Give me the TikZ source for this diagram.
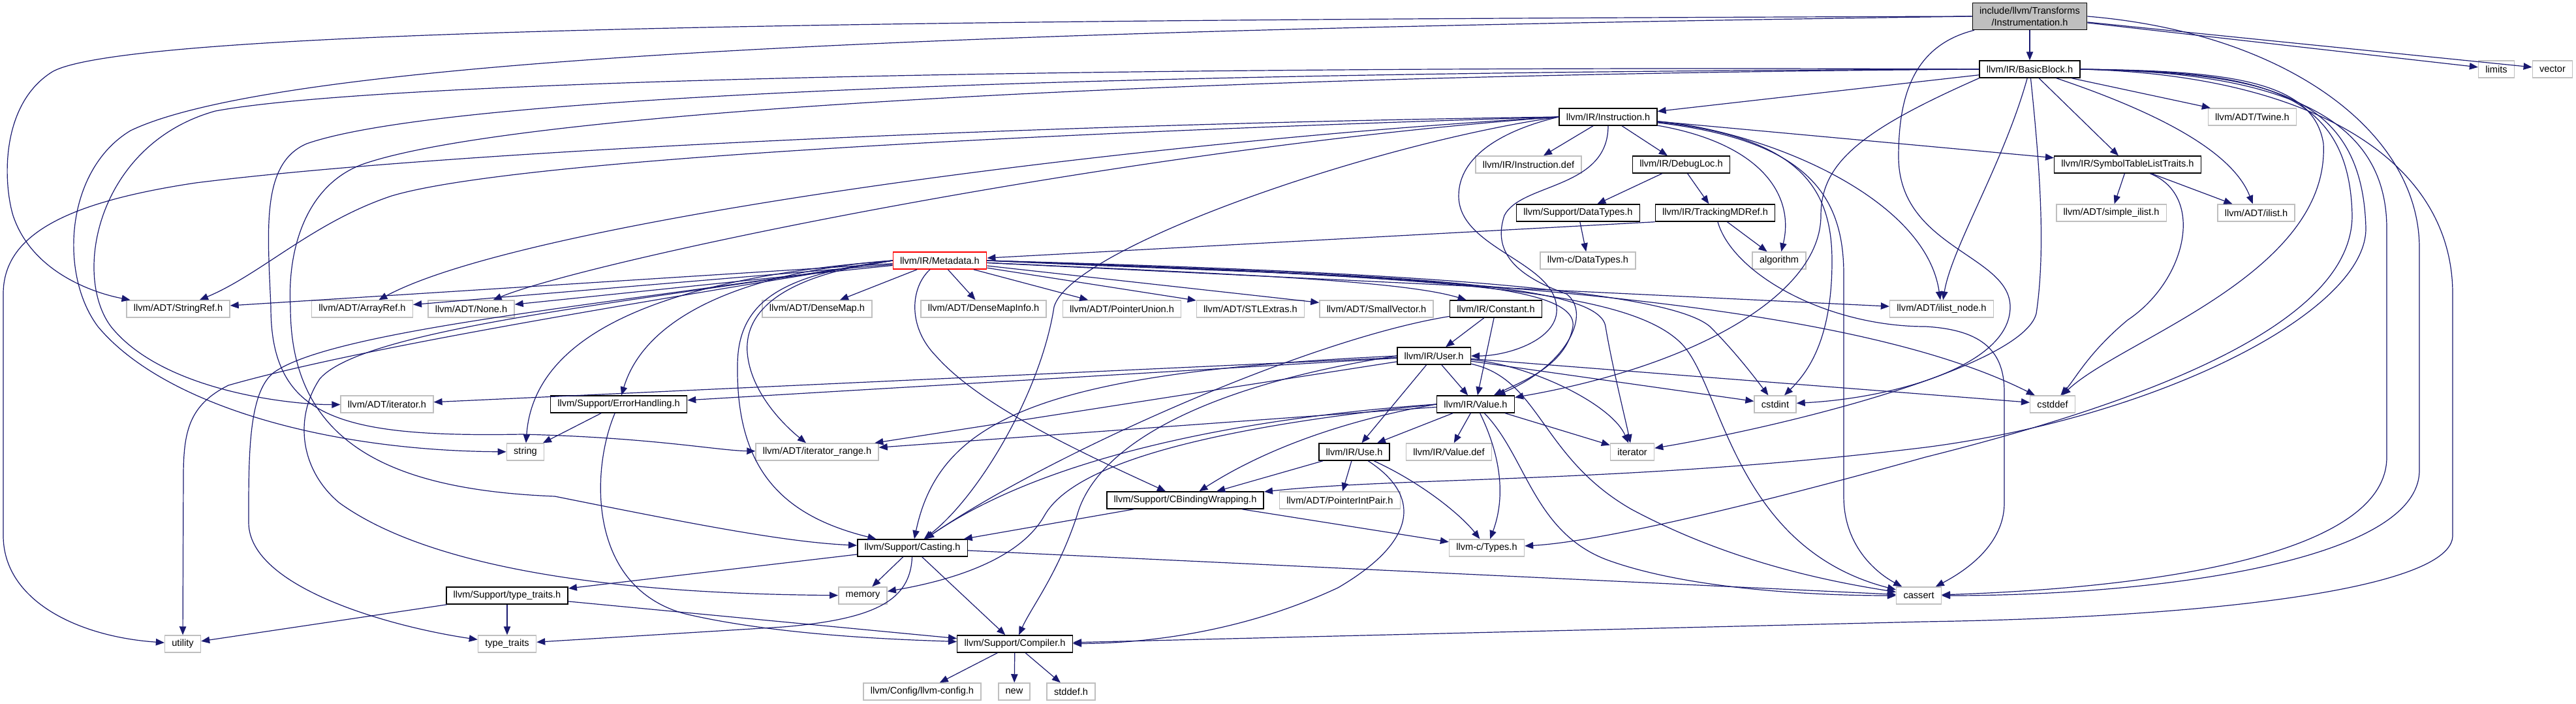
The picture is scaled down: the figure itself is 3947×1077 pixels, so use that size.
\documentclass[tikz,border=0pt]{standalone}
\usepackage{fontspec}
\setmainfont{Liberation Sans}
\usetikzlibrary{arrows.meta}
\definecolor{edgeblue}{HTML}{191970}
\definecolor{boxgray}{HTML}{BFBFBF}
\tikzset{dep/.style={draw=edgeblue, line width=0.6pt, -{Triangle[length=6.5pt,width=5.2pt]}},
  hdr/.style={draw=black, line width=0.75pt, fill=white, inner xsep=5.4pt, inner ysep=0pt, minimum height=13pt, font=\fontsize{7.3}{8.8}\selectfont},
  sys/.style={hdr, draw=boxgray},
  trunc/.style={hdr, draw=red},
  topfile/.style={hdr, fill=boxgray, align=center, minimum height=20.5pt}}

\begin{document}
\begin{tikzpicture}[x=0.5pt,y=-0.5pt]
  \fill[white] (0,0) rectangle (3947,1077);
  \useasboundingbox (0,0) rectangle (3947,1077);
  % headers
  \node[topfile] (root) at (3110,25) {include/llvm/Transforms\\/Instrumentation.h};
  \node[hdr] (bb)     at (3110,106) {llvm/IR/BasicBlock.h};
  \node[sys] (limits) at (3825,106) {limits};
  \node[sys] (vec)    at (3911,106) {vector};
  \node[hdr] (instr)  at (2464,179) {llvm/IR/Instruction.h};
  \node[sys] (twine)  at (3451,179) {llvm/ADT/Twine.h};
  \node[sys] (idef)   at (2342,252) {llvm/IR/Instruction.def};
  \node[hdr] (dloc)   at (2576,252) {llvm/IR/DebugLoc.h};
  \node[hdr] (stlt)   at (3260,252) {llvm/IR/SymbolTableListTraits.h};
  \node[hdr] (sdt)    at (2418,326) {llvm/Support/DataTypes.h};
  \node[hdr] (tmd)    at (2628,326) {llvm/IR/TrackingMDRef.h};
  \node[sys] (silist) at (3235,326) {llvm/ADT/simple\_ilist.h};
  \node[sys] (ilist)  at (3457,326) {llvm/ADT/ilist.h};
  \node[sys] (cdt)    at (2433,399) {llvm-c/DataTypes.h};
  \node[sys] (algo)   at (2726,399) {algorithm};
  \node[trunc] (md)   at (1440,399) {llvm/IR/Metadata.h};
  \node[sys] (sref)   at (273,473)  {llvm/ADT/StringRef.h};
  \node[sys] (aref)   at (555,473)  {llvm/ADT/ArrayRef.h};
  \node[sys] (none)   at (722,473)  {llvm/ADT/None.h};
  \node[sys] (dmap)   at (1252,473) {llvm/ADT/DenseMap.h};
  \node[sys] (dmi)    at (1507,473) {llvm/ADT/DenseMapInfo.h};
  \node[sys] (punion) at (1719,473) {llvm/ADT/PointerUnion.h};
  \node[sys] (stlx)   at (1916,473) {llvm/ADT/STLExtras.h};
  \node[sys] (svec)   at (2109,473) {llvm/ADT/SmallVector.h};
  \node[hdr] (const)  at (2292,473) {llvm/IR/Constant.h};
  \node[sys] (ilnode) at (2975,473) {llvm/ADT/ilist\_node.h};
  \node[hdr] (user)   at (2197,545) {llvm/IR/User.h};
  \node[sys] (ith)    at (593,619)  {llvm/ADT/iterator.h};
  \node[hdr] (errh)   at (948,619)  {llvm/Support/ErrorHandling.h};
  \node[hdr] (value)  at (2261,619) {llvm/IR/Value.h};
  \node[sys] (cstdint) at (2720,619) {cstdint};
  \node[sys] (cstddef) at (3145,619) {cstddef};
  \node[sys] (str)    at (805,692)  {string};
  \node[sys] (itr)    at (1252,692) {llvm/ADT/iterator\_range.h};
  \node[hdr] (use)    at (2075,692) {llvm/IR/Use.h};
  \node[sys] (vdef)   at (2220,692) {llvm/IR/Value.def};
  \node[sys] (iter)   at (2501,692) {iterator};
  \node[sys] (pip)    at (2053,766) {llvm/ADT/PointerIntPair.h};
  \node[hdr] (cbw)    at (1816,766) {llvm/Support/CBindingWrapping.h};
  \node[hdr] (cast)   at (1398,839) {llvm/Support/Casting.h};
  \node[sys] (ctypes) at (2278,839) {llvm-c/Types.h};
  \node[sys] (mem)    at (1322,912) {memory};
  \node[sys] (cassert) at (2940,912) {cassert};
  \node[hdr] (stt)    at (777,912)  {llvm/Support/type\_traits.h};
  \node[sys] (util)   at (280,986)  {utility};
  \node[sys] (tt)     at (777,986)  {type\_traits};
  \node[hdr] (comp)   at (1555,986) {llvm/Support/Compiler.h};
  \node[sys] (cfg)    at (1413,1059) {llvm/Config/llvm-config.h};
  \node[sys] (new)    at (1554,1059) {new};
  \node[sys] (stddef) at (1641,1059) {stddef.h};
  % Instrumentation.h
  \foreach \dst in {bb,limits,vec} \draw[dep] (root) -- (\dst);
  \draw[dep] (root.west) .. controls (1500,30) and (200,40) .. (80,110) .. controls (0,160) and (5,280) .. (20,330) .. controls (50,420) and (150,450) .. (sref);
  \draw[dep] (root.west) .. controls (1600,45) and (450,80) .. (200,200) .. controls (100,260) and (90,420) .. (150,500) .. controls (250,620) and (500,690) .. (str);
  \draw[dep] (root) .. controls (2930,70) and (2909,150) .. (2909,240) .. controls (2909,380) and (3080,390) .. (3080,470) .. controls (3080,560) and (2900,610) .. (cstdint);
  \draw[dep] (root.east) .. controls (3500,50) and (3707,200) .. (3707,380) -- (3707,720) .. controls (3707,860) and (3300,912) .. (cassert);
  % BasicBlock.h
  \foreach \dst in {instr,twine,stlt} \draw[dep] (bb) -- (\dst);
  \draw[dep] (bb) .. controls (3300,170) and (3420,230) .. (ilist);
  \draw[dep] (bb) .. controls (3070,250) and (2990,380) .. (ilnode);
  \draw[dep] (bb.east) .. controls (3420,108) and (3545,125) .. (3560,220) .. controls (3570,420) and (3250,520) .. (cstddef);
  \draw[dep] (bb) .. controls (3125,250) and (3135,380) .. (3120,480) .. controls (3100,560) and (2750,650) .. (iter);
  \draw[dep] (bb.east) .. controls (3450,110) and (3600,130) .. (3604,330) .. controls (3604,480) and (3350,600) .. (2950,700) .. controls (2700,770) and (2450,830) .. (ctypes);
  \draw[dep] (bb.east) .. controls (3460,112) and (3620,135) .. (3625,350) .. controls (3625,480) and (3300,640) .. (2950,685) .. controls (2500,740) and (2150,730) .. (cbw);
  \draw[dep] (bb.east) .. controls (3500,110) and (3657,180) .. (3657,350) -- (3657,700) .. controls (3657,850) and (3300,900) .. (cassert);
  \draw[dep] (bb.east) .. controls (3550,115) and (3758,250) .. (3758,450) -- (3758,820) .. controls (3758,900) and (3400,945) .. (2947,952) -- (comp);
  \draw[dep] (bb.south west) .. controls (2850,200) and (2790,250) .. (2790,330) .. controls (2790,450) and (2600,560) .. (value);
  \draw[dep] (bb.west) .. controls (1800,100) and (600,120) .. (330,170) .. controls (150,220) and (110,420) .. (170,500) .. controls (250,600) and (450,620) .. (ith);
  \draw[dep] (bb.west) .. controls (1800,110) and (700,140) .. (470,220) .. controls (400,250) and (410,350) .. (415,470) .. controls (415,640) and (520,670) .. (800,665) .. controls (1000,670) and (1100,690) .. (itr);
  \draw[dep] (bb.west) .. controls (1800,115) and (800,170) .. (560,250) .. controls (470,280) and (440,380) .. (445,470) .. controls (445,680) and (600,750) .. (850,760) .. controls (1050,800) and (1200,830) .. (cast);
  % Instruction.h
  \foreach \dst in {idef,dloc,stlt} \draw[dep] (instr) -- (\dst);
  \draw[dep] (instr) .. controls (2700,220) and (2750,300) .. (algo);
  \draw[dep] (instr) .. controls (2700,200) and (2950,300) .. (ilnode);
  \draw[dep] (instr) .. controls (2760,210) and (2807,290) .. (2807,400) .. controls (2807,520) and (2770,570) .. (cstdint);
  \draw[dep] (instr) .. controls (2770,215) and (2825,300) .. (2825,420) -- (2825,760) .. controls (2825,840) and (2880,880) .. (cassert);
  \draw[dep] (instr.west) .. controls (1700,200) and (800,240) .. (600,300) .. controls (480,340) and (400,420) .. (sref);
  \draw[dep] (instr.west) .. controls (1700,220) and (800,340) .. (aref);
  \draw[dep] (instr.west) .. controls (1700,230) and (900,400) .. (none);
  \draw[dep] (instr.west) .. controls (1600,190) and (700,230) .. (300,280) .. controls (100,310) and (5,360) .. (5,450) -- (5,820) .. controls (5,920) and (120,975) .. (util);
  \draw[dep] (instr.west) .. controls (2300,200) and (2235,240) .. (2235,300) .. controls (2235,380) and (2380,400) .. (2385,470) .. controls (2390,520) and (2310,545) .. (user);
  \draw[dep] (instr) .. controls (2464,290) and (2330,280) .. (2305,330) .. controls (2285,390) and (2330,425) .. (2400,450) .. controls (2440,480) and (2400,560) .. (value);
  \draw[dep] (instr.west) .. controls (2100,220) and (1640,380) .. (1615,470) .. controls (1595,600) and (1500,760) .. (cast);
  % DebugLoc.h, DataTypes.h, TrackingMDRef.h
  \foreach \dst in {sdt,tmd} \draw[dep] (dloc) -- (\dst);
  \draw[dep] (sdt) -- (cdt);
  \draw[dep] (tmd) -- (algo);
  \draw[dep] (tmd.south west) -- (md);
  \draw[dep] (tmd) .. controls (2655,420) and (2800,500) .. (2950,500) .. controls (3040,505) and (3071,540) .. (3071,600) -- (3071,770) .. controls (3071,840) and (3000,880) .. (cassert);
  % SymbolTableListTraits.h
  \foreach \dst in {silist,ilist} \draw[dep] (stlt) -- (\dst);
  \draw[dep] (stlt) .. controls (3380,300) and (3350,430) .. (3260,490) .. controls (3200,540) and (3180,580) .. (cstddef);
  % Metadata.h
  \foreach \dst in {dmap,dmi,punion,stlx,svec,sref,aref,none,ilnode} \draw[dep] (md) -- (\dst);
  \draw[dep] (md) .. controls (1900,420) and (2150,430) .. (const);
  \draw[dep] (md.east) .. controls (2300,425) and (2850,470) .. (cstddef);
  \draw[dep] (md.east) .. controls (2100,415) and (2550,440) .. (2620,500) .. controls (2660,540) and (2690,580) .. (cstdint);
  \draw[dep] (md.east) .. controls (2100,420) and (2450,430) .. (2460,500) .. controls (2470,560) and (2490,640) .. (iter);
  \draw[dep] (md.east) .. controls (2050,425) and (2420,420) .. (2410,500) .. controls (2400,560) and (2330,585) .. (value);
  \draw[dep] (md) .. controls (1395,440) and (1390,500) .. (1434,545) .. controls (1500,620) and (1650,690) .. (cbw);
  \draw[dep] (md.west) .. controls (1200,420) and (1130,460) .. (1130,560) .. controls (1128,720) and (1200,790) .. (cast);
  \draw[dep] (md.west) .. controls (1210,420) and (1140,470) .. (1145,540) .. controls (1150,600) and (1200,650) .. (itr);
  \draw[dep] (md.west) .. controls (1150,415) and (990,480) .. (errh);
  \draw[dep] (md.west) .. controls (1100,420) and (820,480) .. (str);
  \draw[dep] (md.west) .. controls (1000,460) and (560,500) .. (490,580) .. controls (450,640) and (460,720) .. (520,770) .. controls (700,900) and (1100,910) .. (mem);
  \draw[dep] (md.west) .. controls (1000,460) and (520,500) .. (420,570) .. controls (380,600) and (381,700) .. (381,800) .. controls (381,900) and (600,960) .. (tt);
  \draw[dep] (md.west) .. controls (1000,460) and (560,530) .. (350,590) .. controls (290,620) and (281,660) .. (281,730) -- (util);
  \draw[dep] (md.east) .. controls (2200,425) and (2500,440) .. (2580,530) .. controls (2640,600) and (2660,840) .. (cassert);
  % Constant.h
  \foreach \dst in {user,value} \draw[dep] (const) -- (\dst);
  \draw[dep] (const) .. controls (2000,520) and (1600,700) .. (cast);
  % User.h
  \foreach \dst in {use,value,cstdint,cstddef,ith,errh,itr} \draw[dep] (user) -- (\dst);
  \draw[dep] (user) .. controls (2350,560) and (2470,620) .. (iter);
  \draw[dep] (user) .. controls (2360,580) and (2360,700) .. (2500,780) .. controls (2650,860) and (2800,890) .. (cassert);
  \draw[dep] (user.west) .. controls (1600,570) and (1440,640) .. (cast);
  \draw[dep] (user.west) .. controls (1850,590) and (1680,680) .. (1650,790) .. controls (1620,880) and (1580,930) .. (comp);
  % Value.h
  \foreach \dst in {use,vdef,iter,itr} \draw[dep] (value) -- (\dst);
  \draw[dep] (value) .. controls (2310,720) and (2300,780) .. (ctypes);
  \draw[dep] (value) .. controls (2340,700) and (2350,820) .. (2470,860) .. controls (2600,905) and (2800,912) .. (cassert);
  \draw[dep] (value.west) .. controls (2080,640) and (1950,680) .. (cbw);
  \draw[dep] (value.west) .. controls (1900,640) and (1600,700) .. (cast);
  \draw[dep] (value.west) .. controls (1900,650) and (1650,700) .. (1600,790) .. controls (1560,860) and (1450,890) .. (mem);
  % Use.h
  \foreach \dst in {pip,cbw} \draw[dep] (use) -- (\dst);
  \draw[dep] (use) .. controls (2180,740) and (2240,790) .. (ctypes);
  \draw[dep] (use) .. controls (2180,760) and (2170,830) .. (2050,900) .. controls (1900,970) and (1750,985) .. (comp);
  % CBindingWrapping.h, ErrorHandling.h
  \foreach \dst in {cast,ctypes} \draw[dep] (cbw) -- (\dst);
  \draw[dep] (errh) -- (str);
  \draw[dep] (errh) .. controls (905,720) and (900,900) .. (1050,940) .. controls (1200,975) and (1400,980) .. (comp);
  % Casting.h
  \foreach \dst in {mem,comp,stt,cassert} \draw[dep] (cast) -- (\dst);
  \draw[dep] (cast) .. controls (1395,920) and (1340,948) .. (1200,960) -- (tt);
  % type_traits.h, Compiler.h
  \foreach \dst in {util,tt,comp} \draw[dep] (stt) -- (\dst);
  \foreach \dst in {cfg,new,stddef} \draw[dep] (comp) -- (\dst);
\end{tikzpicture}
\end{document}
